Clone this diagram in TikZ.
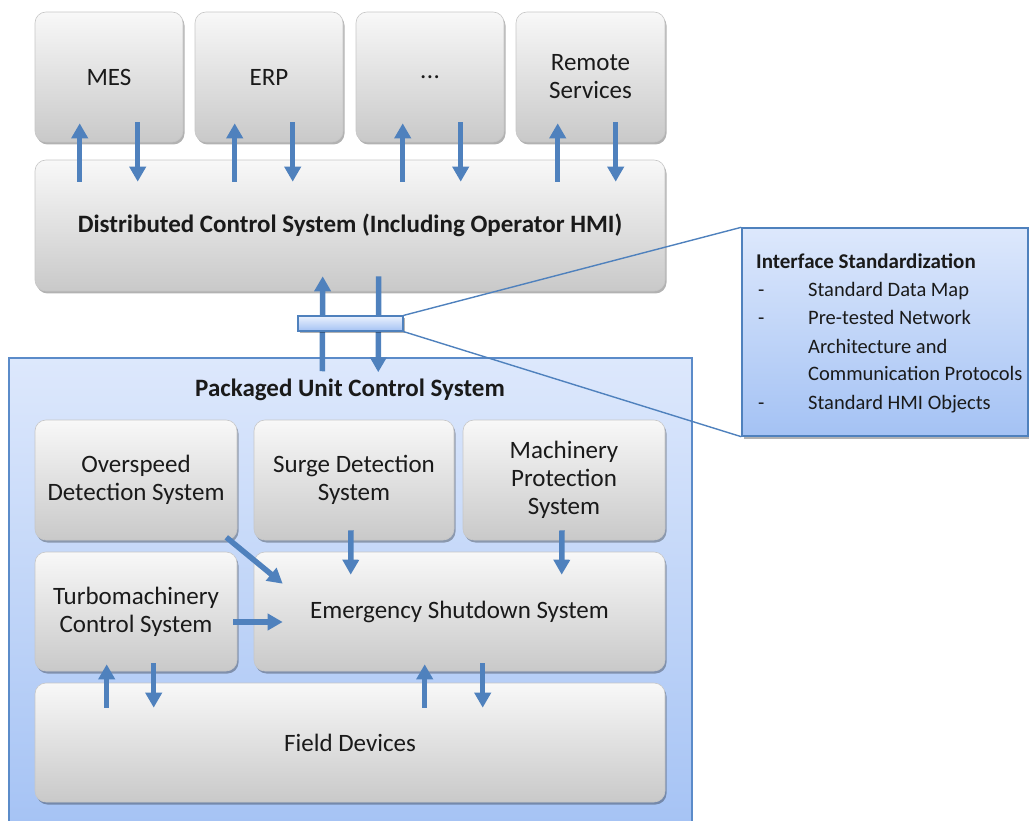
\documentclass[tikz,border=0pt]{standalone}
\usepackage{fontspec}
\setmainfont{Carlito}
\usetikzlibrary{arrows.meta,shadows}
\definecolor{arrblue}{HTML}{4F81BD}
\definecolor{edgeblue}{HTML}{5B8BC9}
\definecolor{boxtop}{HTML}{F8F8F8}
\definecolor{boxbot}{HTML}{C9C9C9}
\definecolor{bluetop}{HTML}{DDE8FC}
\definecolor{bluebot}{HTML}{A4C2F4}
\definecolor{txt}{HTML}{1A1A1A}
\tikzset{
  gbox/.style={draw=black!22, line width=0.6pt, rounded corners=11pt, top color=boxtop, bottom color=boxbot,
    drop shadow={shadow xshift=1.5pt, shadow yshift=-2.5pt, opacity=0.3, fill=black},
    inner sep=0pt, align=center, text=txt, font=\fontsize{25}{28}\selectfont},
  arr/.style={draw=arrblue, line width=5.5pt, -{Triangle[width=16pt,length=15pt]}},
  lnk/.style={draw=arrblue, line width=1.4pt},
  ctext/.style={anchor=base west, inner sep=0pt, text=txt, font=\fontsize{20.5}{24}\selectfont},
}
\begin{document}
\begin{tikzpicture}[x=1pt,y=-1pt]
\useasboundingbox (0,0) rectangle (1029,821);
% outer packaged unit box
\node[draw=edgeblue, line width=1.5pt, top color=bluetop, bottom color=bluebot, minimum width=683pt, minimum height=480pt, inner sep=0pt] (pucs) at (350.5,598) {};
\node[font=\bfseries\fontsize{25}{28}\selectfont, text=txt] (pucst) at (350,390) {Packaged Unit Control System};
% top boxes
\node[gbox, minimum width=148pt, minimum height=130pt] (mes) at (109,77) {MES};
\node[gbox, minimum width=148pt, minimum height=130pt] (erp) at (269,77) {ERP};
\node[gbox, minimum width=148pt, minimum height=130pt] (dots) at (430,77) {.\kern0.5pt.\kern0.5pt.};
\node[gbox, minimum width=149pt, minimum height=130pt] (rem) at (590.5,77) {Remote\\Services};
\node[gbox, minimum width=630pt, minimum height=131pt, font=\bfseries\fontsize{25}{28}\selectfont] (dcs) at (350,225.5) {Distributed Control System (Including Operator HMI)};
% inner boxes
\node[gbox, minimum width=202pt, minimum height=120pt] (ovs) at (136,480) {Overspeed\\Detection System};
\node[gbox, minimum width=200pt, minimum height=120pt] (srg) at (354,480) {Surge Detection\\System};
\node[gbox, minimum width=202pt, minimum height=120pt] (mps) at (564,480) {Machinery\\Protection\\System};
\node[gbox, minimum width=202pt, minimum height=119pt] (tcs) at (136,611.5) {Turbomachinery\\Control System};
\node[gbox, minimum width=411pt, minimum height=119pt] (esd) at (459.5,611.5) {Emergency Shutdown System};
\node[gbox, minimum width=630pt, minimum height=119pt] (fld) at (350,742.5) {Field Devices};
% top arrows
\draw[arr] ([xshift=45pt,yshift=-22pt]dcs.north west) -- ([xshift=45pt,yshift=19pt]mes.south west);
\draw[arr] ([xshift=103pt,yshift=20pt]mes.south west) -- ([xshift=103pt,yshift=-22pt]dcs.north west);
\draw[arr] ([xshift=200pt,yshift=-22pt]dcs.north west) -- ([xshift=40pt,yshift=19pt]erp.south west);
\draw[arr] ([xshift=98pt,yshift=20pt]erp.south west) -- ([xshift=258pt,yshift=-22pt]dcs.north west);
\draw[arr] ([xshift=368pt,yshift=-22pt]dcs.north west) -- ([xshift=47pt,yshift=19pt]dots.south west);
\draw[arr] ([xshift=105pt,yshift=20pt]dots.south west) -- ([xshift=426pt,yshift=-22pt]dcs.north west);
\draw[arr] ([xshift=523pt,yshift=-22pt]dcs.north west) -- ([xshift=42pt,yshift=19pt]rem.south west);
\draw[arr] ([xshift=100pt,yshift=20pt]rem.south west) -- ([xshift=581pt,yshift=-22pt]dcs.north west);
% DCS <-> PUCS
\draw[arr] ([xshift=314pt,yshift=-14pt]pucs.north west) -- ([xshift=288pt,yshift=15pt]dcs.south west);
\draw[arr] ([xshift=344pt,yshift=15pt]dcs.south west) -- ([xshift=370pt,yshift=-15pt]pucs.north west);
% callout
\node[draw=arrblue, line width=1.4pt, top color=bluetop, bottom color=bluebot, minimum width=286pt, minimum height=208pt, inner sep=0pt,
  drop shadow={shadow xshift=1.5pt, shadow yshift=-2.5pt, opacity=0.3, fill=black}] (call) at (885,332) {};
\node[draw=arrblue, line width=1.2pt, top color=bluetop!60!white, bottom color=bluebot, minimum width=105pt, minimum height=15pt, inner sep=0pt,
  drop shadow={shadow xshift=1.5pt, shadow yshift=-2pt, opacity=0.3, fill=black}] (ifc) at (350.5,323.5) {};
\draw[lnk] (ifc.north east) -- (call.north west);
\draw[lnk] (ifc.south east) -- (call.south west);
\node[ctext, font=\bfseries\fontsize{21}{24}\selectfont] (c0) at (756,269) {Interface Standardization};
\node[ctext] (d1) at (758,297) {-};
\node[ctext] (c1) at (808,297) {Standard Data Map};
\node[ctext] (d2) at (758,325) {-};
\node[ctext] (c2) at (808,325) {Pre-tested Network};
\node[ctext] (c3) at (808,353) {Architecture and};
\node[ctext] (c4) at (808,381) {Communication Protocols};
\node[ctext] (d5) at (758,409) {-};
\node[ctext] (c5) at (808,409) {Standard HMI Objects};
% inner arrows
\draw[arr] ([xshift=-11pt,yshift=3pt]ovs.south east) -- ([xshift=29pt,yshift=-32pt]esd.north west);
\draw[arr] ([xshift=-4pt,yshift=-10.5pt]tcs.east) -- ([xshift=29pt,yshift=-10.5pt]esd.west);
\draw[arr] ([xshift=-3pt,yshift=10pt]srg.south) -- ([xshift=97pt,yshift=-23pt]esd.north west);
\draw[arr] ([xshift=-2pt,yshift=10pt]mps.south) -- ([xshift=308pt,yshift=-23pt]esd.north west);
\draw[arr] ([xshift=72pt,yshift=-25pt]fld.north west) -- ([xshift=72pt,yshift=7pt]tcs.south west);
\draw[arr] ([xshift=119pt,yshift=8pt]tcs.south west) -- ([xshift=119pt,yshift=-25pt]fld.north west);
\draw[arr] ([xshift=390pt,yshift=-25pt]fld.north west) -- ([xshift=171pt,yshift=7pt]esd.south west);
\draw[arr] ([xshift=229pt,yshift=8pt]esd.south west) -- ([xshift=448pt,yshift=-25pt]fld.north west);
\end{tikzpicture}
\end{document}
